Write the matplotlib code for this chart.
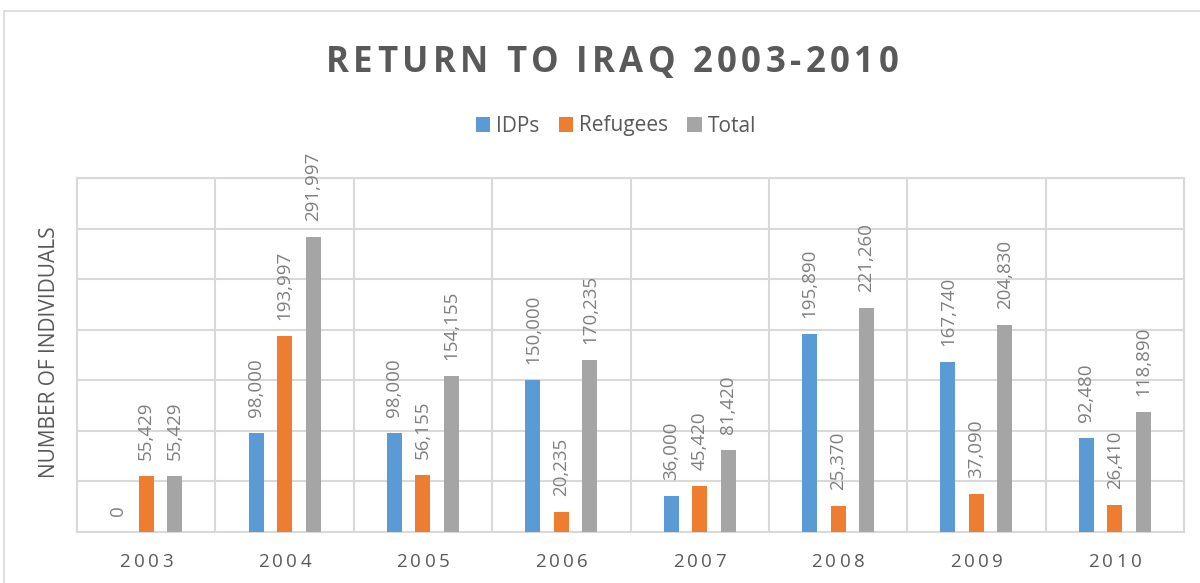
import matplotlib.pyplot as plt
import matplotlib.patches as patches
from matplotlib.font_manager import FontProperties
import numpy as np

years = ['2003', '2004', '2005', '2006', '2007', '2008', '2009', '2010']
idps = [0, 98000, 98000, 150000, 36000, 195890, 167740, 92480]
refugees = [55429, 193997, 56155, 20235, 45420, 25370, 37090, 26410]
total = [55429, 291997, 154155, 170235, 81420, 221260, 204830, 118890]

series = [('IDPs', idps, '#5B9BD5'),
          ('Refugees', refugees, '#ED7D31'),
          ('Total', total, '#A5A5A5')]

fams = ['Open Sans', 'DejaVu Sans']
plt.rcParams['font.family'] = fams
txt = '#595959'
grid = '#D9D9D9'
W, H = 1200, 583

fig = plt.figure(figsize=(12, 5.83), dpi=100)
# plot area in pixels: left 77, right 1184, top 178, bottom 532
ax = fig.add_axes([77 / W, 1 - 532 / H, (1184 - 77) / W, (532 - 178) / H])
rend = fig.canvas.get_renderer()


def spaced(s, xc, y_px, gap, size, weight='normal', color=txt):
    # draw a string with extra letter spacing, centred on pixel xc, baseline at y_px
    prop = FontProperties(family=fams, size=size, weight=weight)
    wid = lambda t: rend.get_text_width_height_descent(t, prop, ismath=False)[0]
    bar = wid('|')
    offs = [wid(s[:i] + '|') - bar if i else 0 for i in range(len(s) + 1)]
    total_w = offs[-1] + gap * (len(s) - 1)
    x0 = xc - total_w / 2
    for i, c in enumerate(s):
        if c == ' ':
            continue
        fig.text((x0 + offs[i] + gap * i) / W, 1 - y_px / H, c, fontproperties=prop,
                 color=color, ha='left', va='baseline')


# light frame around the chart
fig.patches.append(patches.Rectangle((4 / W, -0.1), 1.2, 1 - 11 / H + 0.1,
                                     transform=fig.transFigure, fill=False,
                                     edgecolor='#D9D9D9', linewidth=1.2))

x = np.arange(len(years))
w = 0.108
step = 0.206
for i, (name, vals, col) in enumerate(series):
    pos = x + (i - 1) * step
    ax.bar(pos, vals, width=w, color=col, label=name, zorder=3)
    for p, v in zip(pos, vals):
        ax.annotate(f'{v:,}', (p, v), xytext=(0, 16), textcoords='offset pixels',
                    rotation=90, ha='center', va='bottom',
                    fontsize=13.5, color='#7F7F7F', zorder=4)

ax.set_xlim(-0.5, len(years) - 0.5)
ax.set_ylim(0, 350000)
ax.set_yticks(np.arange(0, 350001, 50000))
ax.set_yticklabels([])
ax.set_xticks(x)
ax.set_xticklabels([])
ax.tick_params(length=0)
ax.grid(axis='y', color=grid, linewidth=1.5, zorder=0)
for b in np.arange(0.5, len(years) - 0.5, 1):
    ax.axvline(b, color=grid, linewidth=1.5, zorder=0)
for s in ax.spines.values():
    s.set_color(grid)
    s.set_linewidth(1.5)

# year labels with letter spacing
for xi, yr in zip(x, years):
    xc = ax.transData.transform((xi, 0))[0]
    spaced(yr, xc, 567, 3.5, 13.5)

fig.text(50 / W, 1 - 352 / H, 'NUMBER OF INDIVIDUALS', rotation=90, ha='center',
         va='center', fontsize=15, color=txt)

spaced('RETURN TO IRAQ 2003-2010', 612, 72, 4.5, 25, weight='bold')

fig.legend(loc='center', bbox_to_anchor=(616 / W, 1 - 126 / H), ncol=3, frameon=False,
           fontsize=15, handlelength=0.7, handleheight=0.7, handletextpad=0.3,
           columnspacing=0.9, labelcolor=txt)

fig.savefig('out.png', dpi=100)
